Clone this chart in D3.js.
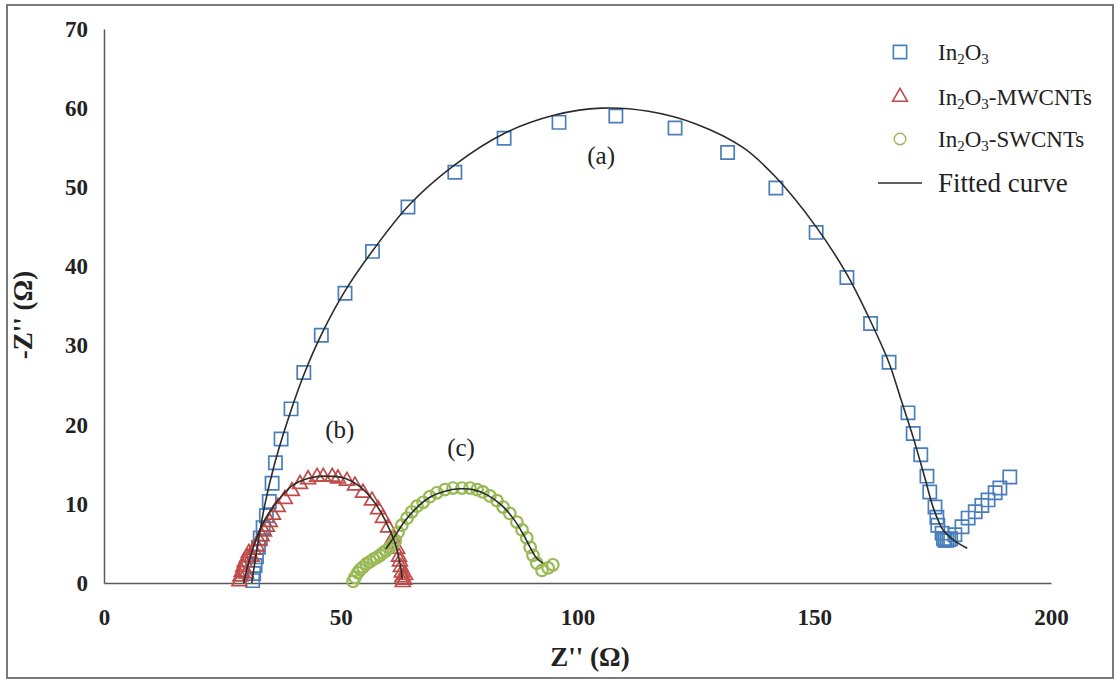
<!DOCTYPE html>
<html>
<head>
<meta charset="utf-8">
<script src="https://cdn.jsdelivr.net/npm/d3@7"></script>
<style>
  body { margin: 0; background: #fff; }
  svg { display: block; }
</style>
</head>
<body>
<svg id="chart"></svg>
<script>
// ---- data: [Z', -Z''] pairs ----
var in2o3Pts = [
  [31.4,0.3],[31.6,1.2],[31.9,2.2],[32.2,3.3],[32.6,4.5],[33.0,5.7],[33.6,7.0],[34.3,8.5],
  [34.9,10.3],[35.5,12.6],[36.2,15.2],[37.4,18.2],[39.5,22.0],[42.2,26.6],[45.9,31.3],
  [50.9,36.6],[56.7,41.9],[64.2,47.5],[74.1,51.9],[84.5,56.2],[96.1,58.2],[108.1,59.0],
  [120.6,57.5],[131.7,54.4],[141.9,49.9],[150.4,44.3],[156.9,38.6],[161.9,32.8],[165.8,27.9],
  [169.8,21.5],[170.9,18.9],[172.5,16.2],[173.8,13.5],[174.4,11.5],[175.5,9.6],[175.9,8.3],
  [176.1,7.3],[177.0,6.3],[177.3,5.6],[177.6,5.4],[178.0,5.4],[178.4,5.5],[178.8,5.6],
  [179.7,6.1],[181.2,7.1],[182.5,8.2],[184.0,9.0],[185.4,9.8],[186.7,10.5],[188.2,11.4],
  [189.2,12.0],[191.3,13.4]
];
var mwcntPts = [
  [28.6,0.2],[28.8,0.8],[29.1,1.4],[29.4,2.0],[29.7,2.6],[30.0,1.2],[30.2,3.2],[30.6,3.8],
  [31.2,3.3],[31.6,4.2],[32.3,4.6],[32.8,5.3],[33.3,5.9],[33.8,6.5],[34.4,7.1],[35.0,7.7],
  [35.7,8.6],[36.7,9.6],[38.2,10.6],[39.7,11.6],[41.4,12.5],[43.1,13.1],[45.0,13.4],
  [46.3,13.4],[48.2,13.4],[49.4,13.2],[51.3,12.9],[53.0,12.3],[54.7,11.4],[56.6,10.4],
  [57.9,9.3],[58.9,8.2],[60.0,7.0],[61.0,5.6],[61.9,4.3],[62.3,3.3],[62.5,2.7],[62.7,2.0],
  [62.9,1.3],[63.0,0.7],[63.1,0.1],[63.4,0.4],[63.6,1.0]
];
var swcntPts = [
  [52.6,0.2],[53.0,0.7],[53.6,1.3],[54.1,1.7],[54.7,2.0],[55.4,2.4],[56.2,2.7],[56.9,3.0],
  [57.6,3.2],[58.3,3.5],[58.9,3.8],[59.6,4.1],[60.4,4.5],[61.0,4.9],[61.5,5.4],[62.1,6.4],
  [62.9,7.3],[64.0,8.2],[65.0,9.0],[66.1,9.7],[67.4,10.2],[68.8,10.9],[70.3,11.4],[72.0,11.8],
  [73.7,12.0],[75.6,12.0],[77.3,12.0],[78.8,11.8],[80.0,11.5],[81.5,11.0],[83.0,10.4],
  [84.3,9.6],[85.7,8.8],[87.2,7.7],[88.3,6.7],[89.3,5.7],[90.0,4.5],[90.6,3.5],[91.4,2.5],
  [92.5,1.6],[93.8,1.9],[94.8,2.3]
];
var fitA = [
  [31.2,0],[32.5,5],[34,10],[36,15],[38.5,20],[42,26],[46,31.5],[51,37],[57,42.2],[64.5,47.8],
  [74,52.8],[84.5,56.8],[95,59.1],[105,60.0],[115,59.6],[125,58.0],[135,55.0],[142,51.2],
  [150.4,45.0],[156.9,39.0],[161.8,33.2],[165.8,27.8],[168.1,23.6],[170.9,18.4],[173.4,13.2],
  [175.2,9.4],[177.2,6.7],[179.5,5.4],[182.3,4.4]
];
var fitB = [
  [29.5,0],[30.5,2.5],[32,5.3],[33.2,7.1],[35,9.0],[37.5,11],[40,12.4],[43,13.2],[47,13.5],
  [51,13.2],[54,12.2],[57,10.3],[59.5,7.8],[61.5,5.0],[62.5,2.5],[63,0.5]
];
var fitC = [
  [59.5,4.3],[61.5,6.0],[63.5,7.8],[66,9.5],[69,10.9],[72,11.6],[75,11.9],[78,11.8],[81,11.1],
  [84,9.8],[86.5,8.1],[88.5,6.2],[90,4.5],[91.3,3.2],[92.7,2.5]
];
var xTicks = [0, 50, 100, 150, 200];
var yTicks = [0, 10, 20, 30, 40, 50, 60, 70];
var curveLabels = [["(a)", 105, 53], ["(b)", 49.8, 18.3], ["(c)", 75.4, 16.0]];
var legendNames = ["", "-MWCNTs", "-SWCNTs"];

var W = 1120, H = 686;
var blue = "#4a7ebb", red = "#be4b48", green = "#98b954";
var serif = "'Liberation Serif', 'Times New Roman', serif";

var svg = d3.select("#chart").attr("width", W).attr("height", H);

// outer frame
svg.append("rect")
  .attr("x", 7).attr("y", 5).attr("width", 1106).attr("height", 673)
  .attr("fill", "none").attr("stroke", "#7a7a7a").attr("stroke-width", 2);

var x = d3.scaleLinear().domain([0, 200]).range([104, 1051]);
var y = d3.scaleLinear().domain([0, 70]).range([583, 29]);

// axes
svg.append("g")
  .attr("transform", "translate(0," + y(0) + ")")
  .call(d3.axisBottom(x).tickValues(xTicks).tickSize(0).tickPadding(26))
  .call(g => g.select(".domain").attr("stroke", "#595959").attr("stroke-width", 1.5))
  .selectAll("text")
    .style("font-family", serif).style("font-size", "23px").style("font-weight", "bold")
    .attr("fill", "#222");

svg.append("g")
  .attr("transform", "translate(" + x(0) + ",0)")
  .call(d3.axisLeft(y).tickValues(yTicks).tickSize(0).tickPadding(16))
  .call(g => g.select(".domain").attr("stroke", "#595959").attr("stroke-width", 1.5))
  .selectAll("text")
    .style("font-family", serif).style("font-size", "23px").style("font-weight", "bold")
    .attr("fill", "#222");

// axis titles
svg.append("text")
  .attr("x", 590).attr("y", 666)
  .attr("text-anchor", "middle")
  .style("font-family", serif).style("font-size", "27px").style("font-weight", "bold")
  .attr("fill", "#222")
  .text("Z'' (\u03A9)");

svg.append("text")
  .attr("transform", "translate(32,315) rotate(-90)")
  .attr("text-anchor", "middle")
  .style("font-family", serif).style("font-size", "27px").style("font-weight", "bold")
  .attr("fill", "#222")
  .text("-Z'' (\u03A9)");

// markers
var sq = d3.symbol().type(d3.symbolSquare).size(175);
var tri = d3.symbol().type(d3.symbolTriangle).size(95);
var circ = d3.symbol().type(d3.symbolCircle).size(105);

svg.append("g").selectAll("path")
  .data(in2o3Pts).enter().append("path")
    .attr("d", sq)
    .attr("transform", d => "translate(" + x(d[0]) + "," + y(d[1]) + ")")
    .attr("fill", "none").attr("stroke", blue).attr("stroke-width", 1.7);

svg.append("g").selectAll("path")
  .data(mwcntPts).enter().append("path")
    .attr("d", tri)
    .attr("transform", d => "translate(" + x(d[0]) + "," + y(d[1]) + ")")
    .attr("fill", "none").attr("stroke", red).attr("stroke-width", 1.7);

svg.append("g").selectAll("path")
  .data(swcntPts).enter().append("path")
    .attr("d", circ)
    .attr("transform", d => "translate(" + x(d[0]) + "," + y(d[1]) + ")")
    .attr("fill", "none").attr("stroke", green).attr("stroke-width", 2.2);

// fitted curves
var line = d3.line()
  .x(d => x(d[0])).y(d => y(d[1]))
  .curve(d3.curveCatmullRom);

[fitA, fitB, fitC].forEach(function(f) {
  svg.append("path")
    .datum(f)
    .attr("d", line)
    .attr("fill", "none").attr("stroke", "#2b2b2b").attr("stroke-width", 1.6);
});

// curve labels
svg.selectAll(".clabel")
  .data(curveLabels).enter().append("text")
    .attr("class", "clabel")
    .attr("x", d => x(d[1])).attr("y", d => y(d[2]))
    .attr("text-anchor", "middle")
    .style("font-family", serif).style("font-size", "25px")
    .attr("fill", "#222")
    .text(d => d[0]);

// legend
var legRows = [52, 97, 139];
var legMarks = [sq, tri, circ];
var legCols = [blue, red, green];
legendNames.forEach(function(name, i) {
  svg.append("path")
    .attr("d", legMarks[i])
    .attr("transform", "translate(900," + legRows[i] + ")")
    .attr("fill", "none").attr("stroke", legCols[i]).attr("stroke-width", i == 2 ? 1.4 : 1.6);
  var t = svg.append("text")
    .attr("x", 938).attr("y", legRows[i] + 8)
    .style("font-family", serif).style("font-size", "23px")
    .attr("fill", "#222");
  t.append("tspan").text("In");
  t.append("tspan").attr("dy", 4).style("font-size", "15px").text("2");
  t.append("tspan").attr("dy", -4).text("O");
  t.append("tspan").attr("dy", 4).style("font-size", "15px").text("3");
  t.append("tspan").attr("dy", -4).text(name);
});
svg.append("line")
  .attr("x1", 878).attr("x2", 922).attr("y1", 183).attr("y2", 183)
  .attr("stroke", "#2b2b2b").attr("stroke-width", 1.6);
svg.append("text")
  .attr("x", 938).attr("y", 192)
  .style("font-family", serif).style("font-size", "27px")
  .attr("fill", "#222")
  .text("Fitted curve");
</script>
</body>
</html>
